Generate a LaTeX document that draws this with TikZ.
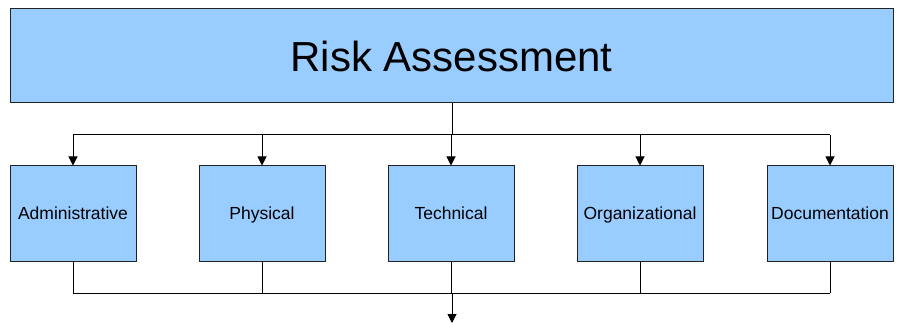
\documentclass[tikz,border=0pt]{standalone}
\usepackage{fontspec}
\setmainfont{Liberation Sans}
\usetikzlibrary{arrows.meta}
\definecolor{boxblue}{HTML}{99CCFF}
\definecolor{edge}{HTML}{222222}
\tikzset{
  x=1pt, y=-1pt,
  catbox/.style={draw=edge, fill=boxblue, line width=1pt, minimum width=126pt, minimum height=95pt, inner sep=0pt, text height=14.6pt, text depth=3.6pt, font=\fontsize{17.5}{20}\selectfont, anchor=center},
  topbox/.style={draw=edge, fill=boxblue, line width=1pt, minimum width=883pt, minimum height=94pt, inner sep=0pt, font=\fontsize{42}{48}\selectfont, anchor=center},
  conn/.style={draw=black, line width=1pt},
  arr/.style={conn, -{Triangle[width=9pt,length=9pt]}}
}
\begin{document}
\begin{tikzpicture}
\useasboundingbox (0,0) rectangle (902,323);
\node[topbox] (risk) at (451.5,56) {Risk Assessment};
\node[catbox] (adm) at (73,213.5) {Administrative};
\node[catbox] (phy) at (262,213.5) {Physical};
\node[catbox] (tec) at (451,213.5) {Technical};
\node[catbox] (org) at (640,213.5) {Organizational};
\node[catbox] (doc) at (830,213.5) {Documentation};
\coordinate (split) at (452,135);
\coordinate (join) at (452,293);
\coordinate (out) at (452,323);
\draw[conn] (risk.south -| split) -- (split);
\draw[conn] (split -| adm) -- (split -| doc);
\foreach \n in {adm,phy,tec,org,doc}{
  \draw[arr] (split -| \n) -- (\n.north);
  \draw[conn] (\n.south) -- (join -| \n);
}
\draw[conn] (join -| adm) -- (join -| doc);
\draw[arr] (join) -- (out);
\end{tikzpicture}
\end{document}
